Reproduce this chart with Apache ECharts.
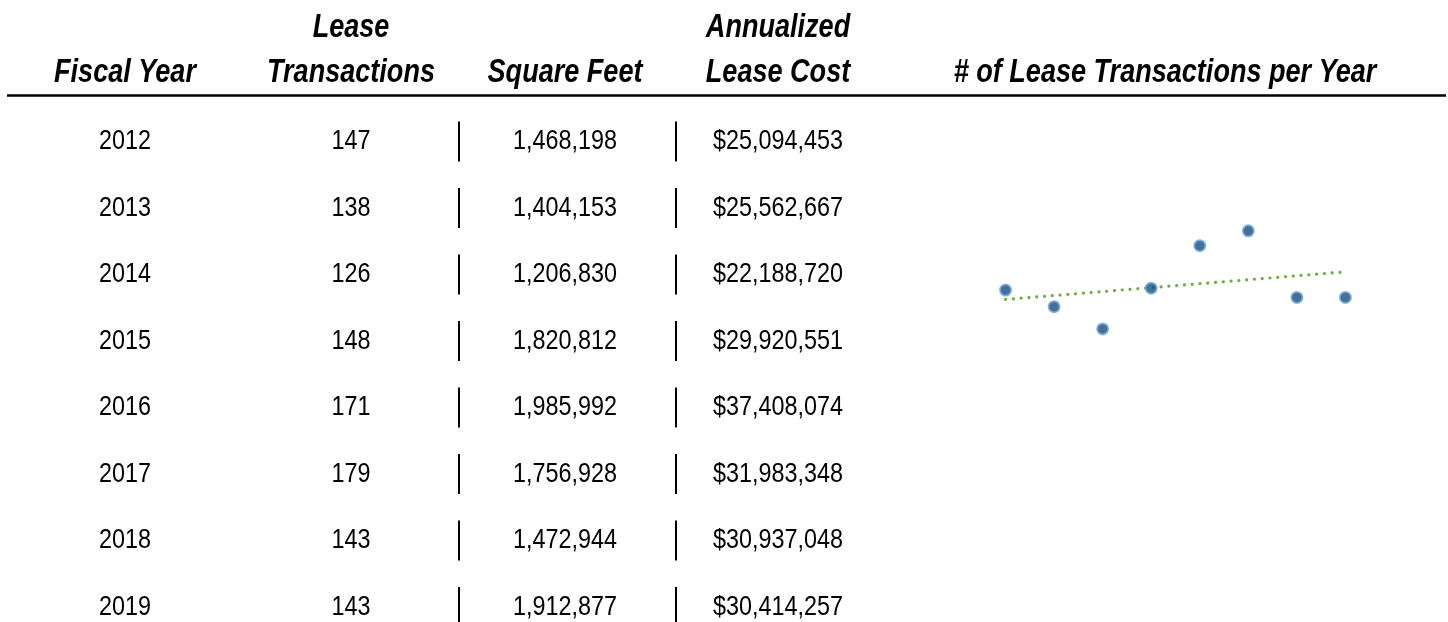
<!DOCTYPE html>
<html><head><meta charset="utf-8">
<script src="https://cdn.jsdelivr.net/npm/echarts@6/dist/echarts.min.js"></script>
<style>html,body{margin:0;padding:0;background:#fff}#c{width:1448px;height:622px}</style>
</head><body><div id="c"></div>
<script>
const fiscalYears = ['2012','2013','2014','2015','2016','2017','2018','2019'];
const leaseTransactions = [147,138,126,148,171,179,143,143];
const squareFeet = ['1,468,198','1,404,153','1,206,830','1,820,812','1,985,992','1,756,928','1,472,944','1,912,877'];
const leaseCost = ['$25,094,453','$25,562,667','$22,188,720','$29,920,551','$37,408,074','$31,983,348','$30,937,048','$30,414,257'];
const headers = [['','Fiscal Year'],['Lease','Transactions'],['','Square Feet'],['Annualized','Lease Cost'],['','# of Lease Transactions per Year']];

const FONT = '"Liberation Sans",Arial,sans-serif';
const NARROW = 0.82;
const colX = [125, 351, 565, 778, 1165];
const rowY0 = 141.5, rowStep = 66.5;
const sepX = [459, 676];

const graphics = [];
headers.forEach((h, i) => {
  h.forEach((t, j) => {
    if (!t) return;
    graphics.push({type:'text', x: colX[i], y: j === 0 ? 28 : 73, scaleX: NARROW,
      style:{text:t, font:'italic bold 33px ' + FONT, fill:'#000', textAlign:'center', textVerticalAlign:'middle'}});
  });
});
graphics.push({type:'line', shape:{x1:7, y1:95.5, x2:1446, y2:95.5}, style:{stroke:'#000', lineWidth:2.5}});
const cols = [fiscalYears, leaseTransactions.map(String), squareFeet, leaseCost];
fiscalYears.forEach((_, r) => {
  const y = rowY0 + r * rowStep;
  cols.forEach((col, c) => {
    graphics.push({type:'text', x: colX[c], y: y, scaleX: NARROW,
      style:{text: col[r], font:'28.5px ' + FONT, fill:'#000', textAlign:'center', textVerticalAlign:'middle'}});
  });
  sepX.forEach(x => {
    graphics.push({type:'line', shape:{x1:x, y1:y - 20, x2:x, y2:y + 20}, style:{stroke:'#000', lineWidth:2}});
  });
});

// linear trendline (least squares over the points)
const n = leaseTransactions.length;
const xs = leaseTransactions.map((_, i) => i + 1);
const mx = xs.reduce((a,b)=>a+b,0)/n, my = leaseTransactions.reduce((a,b)=>a+b,0)/n;
let sxy = 0, sxx = 0;
xs.forEach((x,i)=>{ sxy += (x-mx)*(leaseTransactions[i]-my); sxx += (x-mx)*(x-mx); });
const slope = sxy/sxx, icpt = my - slope*mx;
const trend = [[1, icpt + slope], [n, icpt + slope*n]];

const chart = echarts.init(document.getElementById('c'), null, {renderer:'canvas'});
chart.setOption({
  animation:false,
  grid:{left:957, width:437, top:192, height:185},
  xAxis:{type:'value', min:0, max:9, show:false},
  yAxis:{type:'value', min:100, max:200, show:false},
  graphic: graphics,
  series:[
    {type:'line', data:trend, symbol:'none', z:1,
     lineStyle:{color:'#70ad47', width:3.2, type:[0.1, 7.7], cap:'round'}},
    {type:'scatter', data: leaseTransactions.map((v,i)=>[i+1, v]), symbolSize:11, z:2,
     itemStyle:{color:'#174b7d', borderColor:'#6fa8dc', borderWidth:2}}
  ]
});
</script></body></html>
